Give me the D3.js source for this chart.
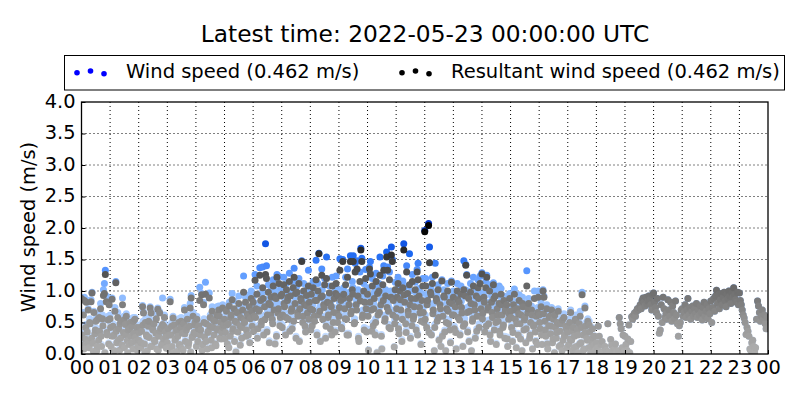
<!DOCTYPE html>
<html>
<head>
<meta charset="utf-8">
<script src="https://cdn.jsdelivr.net/npm/d3@7"></script>
<style>
  html, body { margin: 0; padding: 0; background: #fff; }
  text { font-family: "DejaVu Sans", sans-serif; fill: #000; }
</style>
</head>
<body>
<div id="chart"></div>
<script>
// Readings per hour, one reading every 2 minutes. null = no reading.
const windSpeed = [
  .90,.16,.66,.90,.28,.86,.38,.72,.14,.50,.86,.98,.20,.68,.36,.56,.08,.60,.26,.40,.80,.15,.62,1.02,1.12,1.33,.92,.34,.60,.85,
  .62,.15,.89,.48,.34,.74,1.15,.22,.66,.46,.09,.29,.56,.89,.38,.13,.52,.64,.25,.42,.18,.56,.32,.50,.10,.37,.58,.24,.46,.15,
  .26,.46,.13,.40,.77,.67,.20,.55,.35,.08,.50,.30,.75,.67,.16,.44,.54,.24,.36,.11,.73,.33,.67,.45,.17,.89,.28,.62,.40,.12,
  .21,.44,.10,.87,.34,.15,.60,.52,.26,.40,.07,.32,.56,.18,.50,.12,.38,.54,.74,.24,.44,.62,.16,.52,.80,.93,.30,.66,.40,.56,
  .36,.60,.23,.50,1.06,.42,.96,.18,.82,.31,1.14,.54,.11,.42,.97,.62,.26,.75,.48,.34,.60,.16,.75,.46,.76,.29,.56,.38,.78,.52,
  .60,.37,.74,.19,.54,.82,.32,.68,.96,.46,.84,.60,.05,.72,.40,.92,.52,.66,.28,.76,1.24,.56,.90,.44,.72,.34,.94,.62,1.00,.50,
  .90,.66,1.26,.80,1.08,.45,.76,1.37,.96,.58,1.38,.34,.84,1.75,1.40,.70,1.10,.21,.86,1.02,.60,1.18,.78,.18,.98,1.26,.72,1.23,.50,1.05,
  1.05,.70,1.22,.82,.34,1.12,.92,.62,1.28,1.00,.76,.46,1.15,1.36,.90,.28,1.08,.68,1.20,.80,.96,1.48,.56,1.12,.88,.40,1.02,.74,1.33,.90,
  .80,1.04,.50,1.15,.66,.94,1.49,.34,1.12,1.60,.75,1.00,1.35,.60,.86,1.20,.28,1.54,.90,.70,1.08,.46,.84,1.22,.56,.98,.38,1.24,.72,1.02,
  .66,1.51,.94,.46,1.50,1.05,.80,1.22,.62,1.35,.33,.98,1.56,.76,1.15,1.56,.54,1.44,.86,1.48,1.02,.22,1.30,1.68,1.52,.70,1.12,.90,1.34,.40,
  1.05,.07,1.38,1.47,.78,1.20,.50,.98,.34,1.28,.03,.70,1.12,1.54,.86,.09,1.24,1.40,.58,1.02,1.62,1.38,.76,1.30,.44,1.70,1.50,.94,.12,1.14,
  .64,1.02,1.22,.36,1.10,.80,.23,1.16,1.75,.92,.54,1.40,1.08,.70,1.59,.28,1.00,1.26,.62,.84,1.14,.42,1.34,1.44,1.04,.74,.17,.96,1.20,.56,
  1.96,1.20,.46,.95,2.07,1.70,1.08,.32,1.22,.80,.06,1.44,.98,.58,1.10,.24,.88,.13,1.18,.66,1.02,.38,.06,.80,1.12,.54,.90,.20,1.16,.70,
  1.00,.44,.84,.09,1.12,.66,.92,.33,1.08,.74,.13,1.48,.56,1.42,1.26,.38,1.00,.76,1.12,.06,.58,1.22,.86,.28,1.02,.68,1.18,.48,1.24,.80,
  1.29,.72,.98,.38,1.16,1.25,.78,.54,1.10,.22,.92,.64,1.13,.42,1.02,.17,.80,.56,1.08,.33,1.04,.68,.46,.92,.28,.74,.86,.13,.60,.96,
  .74,.46,.22,.84,1.03,.60,.11,.78,.33,.94,.52,.68,.06,.82,.42,.64,.20,1.32,.72,.88,.27,.55,.76,.09,.50,1.00,.38,.66,.16,1.00,
  .68,.44,.82,.16,1.02,.92,.60,.30,.78,.09,.50,.66,.34,.74,.19,.62,.03,.48,.27,.56,.72,.13,.40,.54,.06,.24,.64,.32,.48,.11,
  .38,.16,.56,.70,.24,.06,.50,.30,.62,.13,.42,.03,.56,.68,.19,.98,.33,.09,.76,.50,.27,.56,.11,.37,.04,.21,.42,.15,.29,.07,
  .18,.10,.44,.28,.04,.15,.20,.02,null,.12,.06,null,.48,.03,null,.23,.14,.05,null,.08,.16,.02,null,.05,.58,.48,.40,.10,.30,.04,
  .28,.15,.06,.24,.46,.02,.20,.59,.55,.62,.65,.60,.68,.72,.70,.74,.78,.72,.85,.89,.82,.76,.90,.80,.84,.92,.86,.78,.70,.94,
  .97,.82,.74,.66,.88,.60,.33,.38,.78,.50,.90,.72,.58,.64,.55,.86,.70,.60,.82,.52,.76,.66,.56,.84,.62,.48,.28,.45,.50,.70,
  .72,.60,.66,.78,.58,.70,.88,.62,.74,.55,.68,.76,.60,.72,.64,.80,.58,.70,.62,.76,.66,.54,.74,.82,.60,.68,.78,.56,.72,.64,
  .84,.50,.74,.88,.68,.92,1.01,.80,.94,.72,.86,.96,.78,.90,.98,.84,.75,.95,.88,1.00,.92,.80,.97,.90,1.05,.94,.86,.82,.98,.78,
  .97,.85,.78,.70,.62,.57,.50,.31,.42,.36,.28,.08,.05,.18,.22,.12,.03,.10,.55,.84,.76,.66,.52,.60,.70,.55,.62,.48,.40,.58
];

const resultantSpeed = [
  .88,.14,.62,.85,.24,.82,.35,.70,.10,.48,.83,.97,.17,.66,.32,.52,.05,.55,.22,.36,.72,.12,.56,.93,.96,1.26,.83,.30,.54,.78,
  .56,.12,.87,.44,.30,.68,1.13,.18,.58,.40,.06,.25,.52,.78,.34,.10,.47,.60,.21,.38,.15,.50,.28,.44,.08,.33,.55,.20,.42,.12,
  .22,.42,.10,.36,.75,.65,.16,.50,.30,.05,.44,.26,.73,.65,.12,.38,.48,.20,.33,.08,.71,.28,.65,.41,.14,.47,.24,.58,.35,.09,
  .18,.40,.07,.83,.30,.12,.57,.46,.22,.36,.04,.28,.50,.15,.42,.09,.33,.48,.70,.20,.38,.55,.13,.44,.73,.89,.26,.60,.34,.50,
  .32,.55,.20,.45,.85,.38,.94,.15,.78,.27,.95,.48,.08,.36,.89,.58,.22,.68,.42,.30,.52,.13,.62,.40,.70,.25,.50,.34,.73,.46,
  .55,.34,.68,.16,.48,.76,.28,.62,.86,.40,.72,.52,.03,.66,.35,.80,.45,.58,.25,.70,.98,.50,.82,.38,.64,.30,.75,.56,.88,.44,
  .82,.60,1.17,.72,.95,.40,.68,1.25,.85,.52,1.05,.30,.75,1.26,1.20,.62,.98,.18,.78,.90,.55,1.08,.70,.16,.88,1.22,.65,1.12,.45,.92,
  .95,.62,1.10,.75,.30,1.02,.85,.55,1.15,.92,.68,.40,1.05,1.22,.80,.25,.98,.60,1.12,.72,.88,1.47,.50,1.00,.78,.35,.93,.65,1.08,.82,
  .72,.95,.45,1.05,.60,.85,1.18,.30,1.00,1.59,.68,.90,1.25,.55,.78,1.10,.25,1.20,.82,.62,.97,.40,.75,1.08,.50,.88,.35,1.12,.65,.92,
  .60,1.33,.85,.40,1.47,.95,.72,1.10,.55,1.22,.30,.88,1.47,.68,1.02,1.47,.48,1.30,.78,1.35,.92,.20,1.15,1.65,1.47,.62,1.00,.82,1.20,.35,
  .95,.06,1.35,1.27,.70,1.08,.45,.88,.30,1.15,.02,.62,1.00,1.25,.78,.08,1.10,1.33,.52,.92,1.54,1.33,.68,1.18,.40,1.57,1.47,.85,.11,1.02,
  .58,.90,1.12,.32,1.00,.70,.20,1.05,1.65,.82,.48,1.30,.96,.62,1.10,.25,.88,1.15,.55,.75,1.02,.38,1.30,1.18,.92,.65,.15,.85,1.08,.50,
  1.94,1.08,.42,.85,2.04,1.45,.98,.30,1.12,.70,.05,1.25,.88,.52,1.02,.22,.78,.12,1.16,.60,.92,.35,.05,.72,1.00,.48,.82,.18,1.14,.62,
  .90,.40,.75,.08,1.00,.58,.82,.30,.95,.65,.12,1.02,.48,1.41,1.25,.35,.88,.68,.98,.05,.52,1.08,.78,.25,.92,.60,1.05,.42,1.12,.72,
  1.27,.65,.90,.35,1.05,1.22,.70,.48,1.00,.20,.82,.58,1.10,.38,.92,.15,.72,.52,.80,.30,.95,.62,.42,.85,.25,.68,.78,.12,.55,.88,
  .68,.42,.20,.78,.95,.55,.10,.72,.30,.85,.48,.62,.05,.75,.38,.58,.18,1.08,.65,.80,.25,.50,.70,.08,.44,.88,.35,.60,.15,.90,
  .62,.40,.75,.15,1.00,.90,.52,.28,.72,.08,.45,.60,.32,.70,.18,.55,.02,.42,.25,.50,.68,.12,.36,.48,.05,.22,.58,.30,.44,.10,
  .35,.15,.50,.66,.22,.05,.42,.28,.55,.12,.38,.02,.48,.60,.18,.94,.30,.08,.73,.45,.25,.52,.10,.35,.03,.20,.40,.14,.28,.06,
  .18,.10,.44,.28,.04,.15,.20,.02,null,.12,.06,null,.48,.03,null,.23,.14,.05,null,.08,.16,.02,null,.05,.58,.48,.40,.10,.30,.04,
  .28,.15,.06,.24,.46,.02,.20,.59,.55,.62,.65,.60,.68,.72,.70,.74,.78,.72,.85,.89,.82,.76,.90,.80,.84,.92,.86,.78,.70,.94,
  .97,.82,.74,.66,.88,.60,.33,.38,.78,.50,.90,.72,.58,.64,.55,.86,.70,.60,.82,.52,.76,.66,.56,.84,.62,.48,.28,.45,.50,.70,
  .72,.60,.66,.78,.58,.70,.88,.62,.74,.55,.68,.76,.60,.72,.64,.80,.58,.70,.62,.76,.66,.54,.74,.82,.60,.68,.78,.56,.72,.64,
  .84,.50,.74,.88,.68,.92,1.01,.80,.94,.72,.86,.96,.78,.90,.98,.84,.75,.95,.88,1.00,.92,.80,.97,.90,1.05,.94,.86,.82,.98,.78,
  .97,.85,.78,.70,.62,.57,.50,.31,.42,.36,.28,.08,.05,.18,.22,.12,.03,.10,.55,.84,.76,.66,.52,.60,.70,.55,.62,.48,.40,.58
];

// Extra readings in the busy hours 00-17, 15 per hour, where the cloud is too dense to separate
const windSpeedExtra = [
  .34,.10,.47,.20,.56,.28,.05,.42,.14,.66,.32,.50,.03,.38,.18,
  .48,.31,.06,.40,.25,.54,.16,.60,.34,.03,.44,.20,.58,.29,.07,
  .38,.20,.52,.04,.31,.58,.14,.44,.25,.64,.07,.40,.18,.50,.30,
  .12,.33,.50,.03,.27,.42,.16,.58,.07,.36,.48,.20,.04,.31,.52,
  .14,.45,.33,.07,.56,.23,.38,.50,.12,.62,.18,.43,.68,.27,.48,
  .27,.52,.12,.66,.40,.23,.56,.74,.16,.47,.60,.31,.68,.20,.76,
  .40,.66,.28,.78,.52,.98,.62,.39,.88,.70,.54,1.02,.31,.80,.65,
  .47,.90,.65,1.00,.40,.80,.58,1.08,.74,.22,.94,.68,.50,.86,.62,
  .42,.78,.58,.95,.70,.22,1.02,.82,.50,.66,.90,.33,.74,1.08,.56,
  .82,.46,.98,.62,.33,.88,.72,1.06,.56,.78,.28,.94,.65,.42,.80,
  .66,.92,.40,.80,.56,1.08,.74,.31,.95,.62,.82,.47,1.00,.70,.54,
  .80,.44,.96,.62,1.05,.38,.76,.88,.50,.66,.98,.33,.82,.58,.74,
  .62,.88,.38,1.05,.72,.47,.94,.64,.80,.31,1.00,.56,.76,.42,.90,
  .70,.38,.96,.60,.84,.50,1.02,.74,.22,.90,.62,.78,.40,.98,.66,
  .62,.92,.50,.82,.33,.74,.98,.56,.70,.40,.88,.52,.78,.27,.72,
  .64,.38,.78,.54,.72,.27,.90,.60,.44,.80,.33,.70,.52,.22,.74,
  .55,.33,.72,.42,.18,.64,.49,.27,.70,.38,.54,.15,.60,.31,.44,
  .48,.27,.40,.11,.58,.33,.18,.47,.07,.38,.24,.52,.13,.28,.05
];

const resultantSpeedExtra = [
  .30,.08,.42,.18,.50,.25,.04,.38,.12,.58,.28,.45,.02,.34,.16,
  .42,.28,.05,.36,.22,.48,.14,.54,.30,.02,.40,.18,.52,.26,.06,
  .34,.18,.46,.03,.28,.52,.12,.40,.22,.56,.06,.36,.16,.44,.27,
  .10,.30,.44,.02,.24,.38,.14,.52,.06,.32,.42,.18,.03,.28,.46,
  .12,.40,.30,.06,.50,.20,.34,.44,.10,.54,.16,.38,.60,.24,.42,
  .24,.46,.10,.58,.36,.20,.50,.65,.14,.42,.54,.28,.60,.18,.68,
  .36,.58,.25,.70,.46,.88,.55,.35,.80,.62,.48,.92,.28,.72,.58,
  .42,.80,.58,.90,.36,.72,.52,.96,.66,.20,.84,.60,.44,.76,.55,
  .38,.70,.52,.85,.62,.20,.92,.74,.44,.58,.80,.30,.66,.96,.50,
  .74,.42,.88,.56,.30,.78,.64,.95,.50,.70,.25,.84,.58,.38,.72,
  .60,.82,.36,.72,.50,.96,.66,.28,.85,.56,.74,.42,.90,.62,.48,
  .72,.40,.86,.55,.94,.34,.68,.78,.45,.60,.88,.30,.74,.52,.66,
  .55,.78,.34,.94,.64,.42,.84,.58,.72,.28,.90,.50,.68,.38,.80,
  .62,.34,.86,.54,.74,.44,.92,.66,.20,.80,.56,.70,.36,.88,.60,
  .56,.82,.44,.74,.30,.66,.88,.50,.62,.36,.78,.46,.70,.24,.64,
  .58,.34,.70,.48,.64,.24,.80,.54,.40,.72,.30,.62,.46,.20,.66,
  .50,.30,.64,.38,.16,.58,.44,.24,.62,.34,.48,.14,.54,.28,.40,
  .44,.24,.36,.10,.52,.30,.16,.42,.06,.34,.22,.46,.12,.26,.04
];

const hourTicks = d3.range(0, 25);
const speedTicks = [0, 0.5, 1, 1.5, 2, 2.5, 3, 3.5, 4];
const titleText = "Latest time: 2022-05-23 00:00:00 UTC";
const yLabelText = "Wind speed (m/s)";
const windLabel = "Wind speed (0.462 m/s)";
const resultantLabel = "Resultant wind speed (0.462 m/s)";

const svgWidth = 800;
const svgHeight = 400;
const margin = { top: 102, right: 32, bottom: 46, left: 81.5 };
const width = svgWidth - margin.left - margin.right;
const height = svgHeight - margin.top - margin.bottom;

const svg = d3.select("#chart").append("svg")
    .attr("width", svgWidth)
    .attr("height", svgHeight)
    .style("display", "block");

const g = svg.append("g")
    .attr("transform", "translate(" + margin.left + "," + margin.top + ")");

const x = d3.scaleLinear().domain([0, 24]).range([0, width]);
const y = d3.scaleLinear().domain([0, 4]).range([height, 0]);

// darker the faster, as in the original
const windColor = d3.scaleLinear()
    .domain([0, 0.5, 1, 1.3, 1.6, 2.1])
    .range(["#d8e8ff", "#b4d2ff", "#84b6ff", "#5a98ff", "#1a66f0", "#0030c8"]);
const resultantColor = d3.scaleLinear()
    .domain([0, 0.5, 1, 1.5, 2])
    .range(["#b0b0b0", "#959595", "#6e6e6e", "#3c3c3c", "#000000"]);

g.append("clipPath").attr("id", "plot-clip")
  .append("rect").attr("width", width).attr("height", height);

// dotted grid
g.append("g").selectAll("line").data(hourTicks.slice(1, -1)).enter().append("line")
    .attr("x1", d => x(d)).attr("x2", d => x(d))
    .attr("y1", 0).attr("y2", height)
    .attr("stroke", "#000").attr("stroke-width", 1).attr("stroke-dasharray", "1,3");
g.append("g").selectAll("line").data(speedTicks.slice(1, -1)).enter().append("line")
    .attr("x1", 0).attr("x2", width)
    .attr("y1", d => y(d)).attr("y2", d => y(d))
    .attr("stroke", "#000").attr("stroke-width", 1).attr("stroke-dasharray", "1,3");

function drawSeries(values, extra, color) {
    const points = values.map((v, i) => ({ hour: i / 30, value: v }))
        .concat(extra.map((v, i) => ({ hour: (i * 4 + 1) / 60, value: v })))
        .filter(d => d.value !== null)
        .sort((a, b) => a.hour - b.hour);
    g.append("g")
        .attr("clip-path", "url(#plot-clip)")
      .selectAll("circle")
      .data(points)
      .enter().append("circle")
        .attr("cx", d => x(d.hour))
        .attr("cy", d => y(d.value))
        .attr("r", 3.5)
        .attr("fill", d => color(d.value));
}

drawSeries(windSpeed, windSpeedExtra, windColor);
drawSeries(resultantSpeed, resultantSpeedExtra, resultantColor);

// axes, ticks point inwards
const xAxis = g.append("g")
    .attr("transform", "translate(0," + height + ")")
    .call(d3.axisBottom(x).tickValues(hourTicks).tickFormat(d => d3.format("02")(d % 24)).tickSize(-4).tickPadding(6));
const yAxis = g.append("g")
    .call(d3.axisLeft(y).tickValues(speedTicks).tickFormat(d3.format(".1f")).tickSize(-4).tickPadding(6));
[xAxis, yAxis].forEach(a => {
    a.selectAll("text").style("font-size", "19.4px");
    a.select(".domain").remove();
});
yAxis.selectAll("text").attr("dy", "0.27em");

g.append("rect")
    .attr("width", width)
    .attr("height", height)
    .attr("fill", "none")
    .attr("stroke", "#000")
    .attr("stroke-width", 1.3);

// title and y label
svg.append("text")
    .attr("x", 425)
    .attr("y", 42)
    .attr("text-anchor", "middle")
    .style("font-size", "23.3px")
    .text(titleText);

svg.append("text")
    .attr("transform", "translate(35,227) rotate(-90)")
    .attr("text-anchor", "middle")
    .style("font-size", "19.4px")
    .text(yLabelText);

// legend
svg.append("rect")
    .attr("x", 64.5).attr("y", 55.5)
    .attr("width", 720).attr("height", 34.5)
    .attr("fill", "#fff").attr("stroke", "#000").attr("stroke-width", 1);

const legendDotX = [0, 13.5, 27];
const legendDotY = [72.7, 71, 73.7];
[{ x0: 77, color: "#0000ff", label: windLabel, tx: 126 },
 { x0: 402, color: "#000000", label: resultantLabel, tx: 451 }].forEach(item => {
    svg.append("g").selectAll("circle").data(legendDotX).enter().append("circle")
        .attr("cx", d => item.x0 + d)
        .attr("cy", (d, i) => legendDotY[i])
        .attr("r", 2.8)
        .attr("fill", item.color);
    svg.append("text")
        .attr("x", item.tx)
        .attr("y", 78)
        .style("font-size", "19.5px")
        .text(item.label);
});
</script>
</body>
</html>
